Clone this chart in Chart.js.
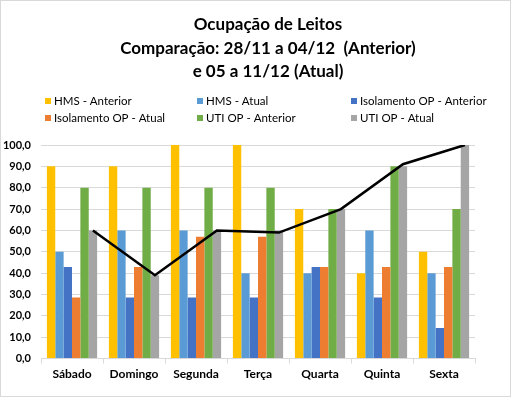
<!DOCTYPE html>
<html>
<head>
<meta charset="utf-8">
<script src="https://cdn.jsdelivr.net/npm/chart.js@4.4.1/dist/chart.umd.min.js"></script>
<style>
  html, body { margin: 0; padding: 0; background: #fff; }
  #wrap { width: 517px; height: 398px; }
</style>
</head>
<body>
<div id="wrap"><canvas id="chart" width="517" height="398"></canvas></div>
<script>
// dias da semana
const days = ['Sábado', 'Domingo', 'Segunda', 'Terça', 'Quarta', 'Quinta', 'Sexta'];

// ocupação (%) por série
const hmsAnterior = [90, 90, 100, 100, 70, 40, 50];
const hmsAtual = [50, 60, 60, 40, 40, 60, 40];
const isoAnterior = [42.9, 28.6, 28.6, 28.6, 42.9, 28.6, 14.3];
const isoAtual = [28.6, 42.9, 57.1, 57.1, 42.9, 42.9, 42.9];
const utiAnterior = [80, 80, 80, 80, 70, 90, 70];
const utiAtual = [60, 39, 60, 60, 70, 90, 100];

// linha preta (sem legenda)
const lineValues = [60, 39, 60, 59, 70, 91, 100];

const seriesNames = ['HMS - Anterior', 'HMS - Atual', 'Isolamento OP - Anterior',
  'Isolamento OP - Atual', 'UTI OP - Anterior', 'UTI OP - Atual'];
const seriesColors = ['#FFC000', '#5B9BD5', '#4472C4', '#ED7D31', '#70AD47', '#A5A5A5'];
const seriesData = [hmsAnterior, hmsAtual, isoAnterior, isoAtual, utiAnterior, utiAtual];

const titleLines = ['Ocupação de Leitos', 'Comparação: 28/11 a 04/12  (Anterior)', 'e 05 a 11/12 (Atual)'];

const FONT = 'Lato, "Liberation Sans", sans-serif';

// a linha passa pelo centro das barras cinzas (como no Excel)
const lineOnGrey = {
  id: 'lineOnGrey',
  afterDatasetsUpdate(chart) {
    const grey = chart.getDatasetMeta(5);
    const line = chart.getDatasetMeta(6);
    line.data.forEach((pt, i) => {
      if (grey.data[i]) pt.x = grey.data[i].x;
    });
  }
};

// título e legenda em grade de 3 colunas
const header = {
  id: 'header',
  afterDraw(chart) {
    const ctx = chart.ctx;
    ctx.save();
    ctx.fillStyle = '#000';
    ctx.textAlign = 'center';
    ctx.textBaseline = 'middle';
    ctx.font = 'bold 17px ' + FONT;
    const titleY = [25, 49, 72];
    titleLines.forEach((t, i) => ctx.fillText(t, 268, titleY[i]));

    const cols = [45, 197, 351];
    const rows = [101, 118];
    ctx.textAlign = 'left';
    ctx.font = '11.5px ' + FONT;
    seriesNames.forEach((name, i) => {
      const x = cols[i % 3];
      const y = rows[Math.floor(i / 3)];
      ctx.fillStyle = seriesColors[i];
      ctx.fillRect(x, y - 3, 6, 6);
      ctx.fillStyle = '#000';
      ctx.fillText(name, x + 9, y);
    });

    // borda da área do gráfico
    ctx.strokeStyle = '#d9d9d9';
    ctx.lineWidth = 1;
    ctx.strokeRect(0.5, 0.5, 510, 396);
    ctx.restore();
  }
};

const datasets = seriesData.map((data, i) => ({
  type: 'bar',
  label: seriesNames[i],
  data: data,
  backgroundColor: seriesColors[i],
  order: 1
}));

datasets.push({
  type: 'line',
  label: 'linha',
  data: lineValues,
  borderColor: '#000',
  borderWidth: 2.5,
  pointRadius: 0,
  tension: 0,
  fill: false,
  order: 0
});

new Chart(document.getElementById('chart'), {
  type: 'bar',
  data: { labels: days, datasets: datasets },
  options: {
    responsive: false,
    animation: false,
    datasets: {
      bar: { categoryPercentage: 0.81, barPercentage: 1.0 }
    },
    layout: { padding: { left: 2, right: 42, top: 145, bottom: 14 } },
    plugins: {
      legend: { display: false },
      tooltip: { enabled: false },
      title: { display: false }
    },
    scales: {
      x: {
        type: 'category',
        offset: true,
        grid: { offset: true, drawOnChartArea: false, drawTicks: true, tickLength: 5, color: '#d9d9d9' },
        border: { color: '#d9d9d9' },
        ticks: { color: '#000', padding: 3, font: { family: FONT, size: 12, weight: 'bold' } }
      },
      y: {
        min: 0,
        max: 100,
        afterFit: scale => { scale.width = 39; },
        ticks: {
          stepSize: 10,
          color: '#000',
          padding: 10,
          font: { family: FONT, size: 11, weight: 'bold' },
          callback: v => v.toFixed(1).replace('.', ',')
        },
        grid: { color: '#d9d9d9', drawTicks: false },
        border: { display: false }
      }
    }
  },
  plugins: [lineOnGrey, header]
});
</script>
</body>
</html>
